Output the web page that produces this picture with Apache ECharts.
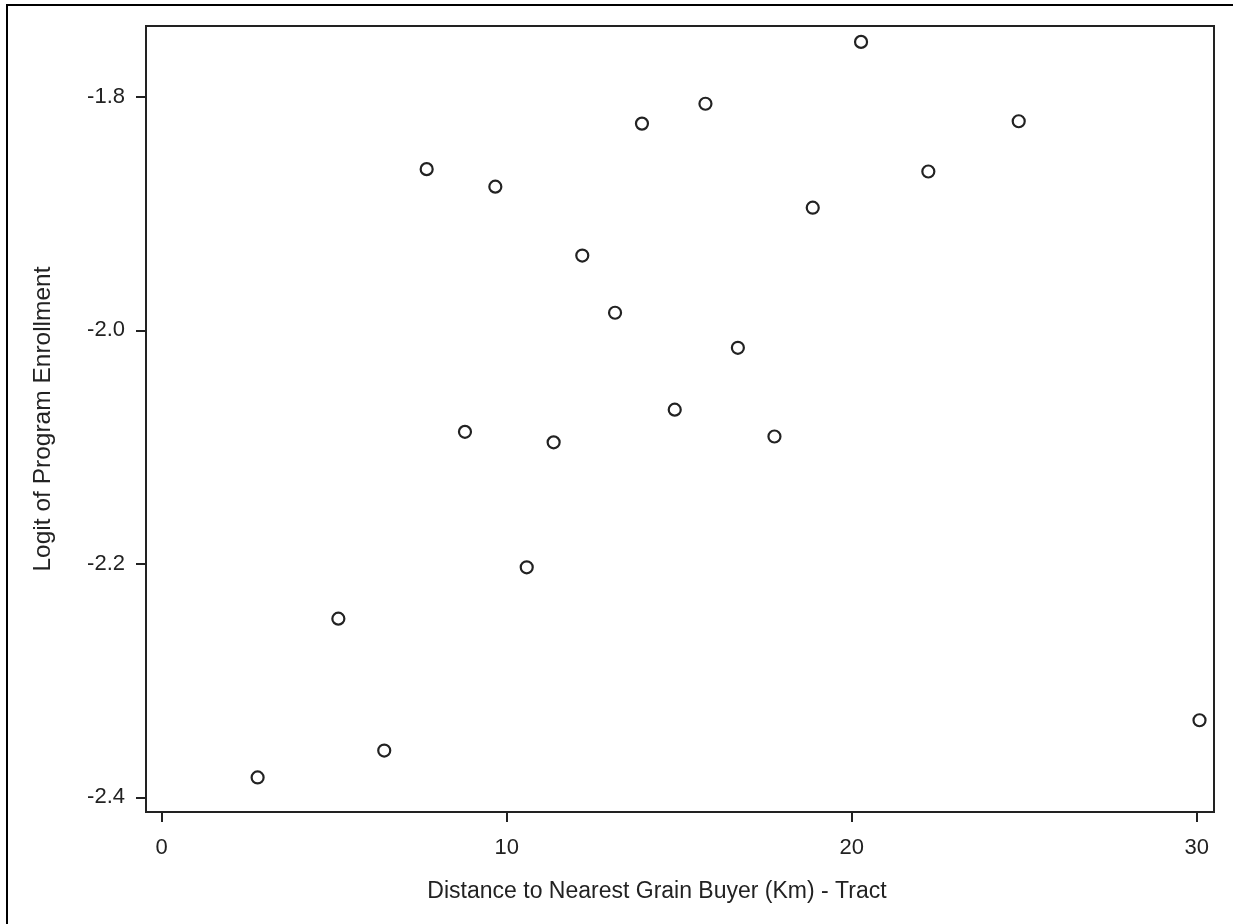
<!DOCTYPE html>
<html>
<head>
<meta charset="utf-8">
<script src="https://cdn.jsdelivr.net/npm/echarts@6/dist/echarts.min.js"></script>
<style>
html,body{margin:0;padding:0;background:#fff;}
#chart{width:1233px;height:924px;}
</style>
</head>
<body>
<div id="chart"></div>
<script>
// Distance to nearest grain buyer (km)
const distanceKm = [2.78, 5.12, 6.45, 7.68, 8.79, 9.67, 10.58, 11.36, 12.19, 13.14,
                    13.92, 14.87, 15.76, 16.70, 17.76, 18.87, 20.27, 22.22, 24.84, 30.08];
// Logit of program enrollment
const logitEnroll = [-2.383, -2.247, -2.360, -1.862, -2.087, -1.877, -2.203, -2.096, -1.936, -1.985,
                     -1.823, -2.068, -1.806, -2.015, -2.091, -1.895, -1.753, -1.864, -1.821, -2.334];
const xTicks = [0, 10, 20, 30];
const yTicks = [-2.4, -2.2, -2.0, -1.8];
const yTickLabels = ['-2.4', '-2.2', '-2.0', '-1.8'];
const xTitle = 'Distance to Nearest Grain Buyer (Km) - Tract';
const yTitle = 'Logit of Program Enrollment';

const points = distanceKm.map((d, i) => [d, logitEnroll[i]]);
const font = '"Liberation Sans", Arial, sans-serif';

const chart = echarts.init(document.getElementById('chart'), null, {renderer: 'canvas'});
chart.setOption({
  backgroundColor: '#fff',
  animation: false,
  graphic: [{
    type: 'rect',
    shape: {x: 7, y: 5, width: 1260, height: 960},
    style: {fill: 'none', stroke: '#000', lineWidth: 2},
    silent: true
  }],
  grid: {
    left: 146, top: 26, right: 19, bottom: 112,
    show: true, borderColor: '#222', borderWidth: 2, backgroundColor: 'transparent'
  },
  xAxis: {
    type: 'value',
    min: -0.455, max: 30.5,
    splitLine: {show: false},
    axisLine: {show: false, onZero: false},
    axisTick: {show: true, length: 10, inside: false, customValues: xTicks, lineStyle: {color: '#222', width: 2}},
    axisLabel: {customValues: xTicks, margin: 25, fontSize: 22, color: '#222', fontFamily: font},
    name: xTitle,
    nameLocation: 'middle',
    nameGap: 68,
    nameTextStyle: {fontSize: 23, color: '#222', fontFamily: font, padding: [0, 46, 0, 0]}
  },
  yAxis: {
    type: 'value',
    min: -2.4126, max: -1.7394,
    splitLine: {show: false},
    axisLine: {show: false, onZero: false},
    axisTick: {show: true, length: 10, inside: false, customValues: yTicks, lineStyle: {color: '#222', width: 2}},
    axisLabel: {
      customValues: yTicks, margin: 21, fontSize: 22, color: '#222', fontFamily: font,
      formatter: v => { const i = yTicks.findIndex(t => Math.abs(t - v) < 1e-6); return i >= 0 ? yTickLabels[i] : ''; }
    },
    name: yTitle,
    nameLocation: 'middle',
    nameGap: 90,
    nameTextStyle: {fontSize: 24.5, color: '#222', fontFamily: font}
  },
  series: [{
    type: 'scatter',
    data: points,
    symbol: 'circle',
    symbolSize: 12,
    itemStyle: {color: '#fff', borderColor: '#222', borderWidth: 2.2, opacity: 1},
    emphasis: {disabled: true}
  }]
});
</script>
</body>
</html>
